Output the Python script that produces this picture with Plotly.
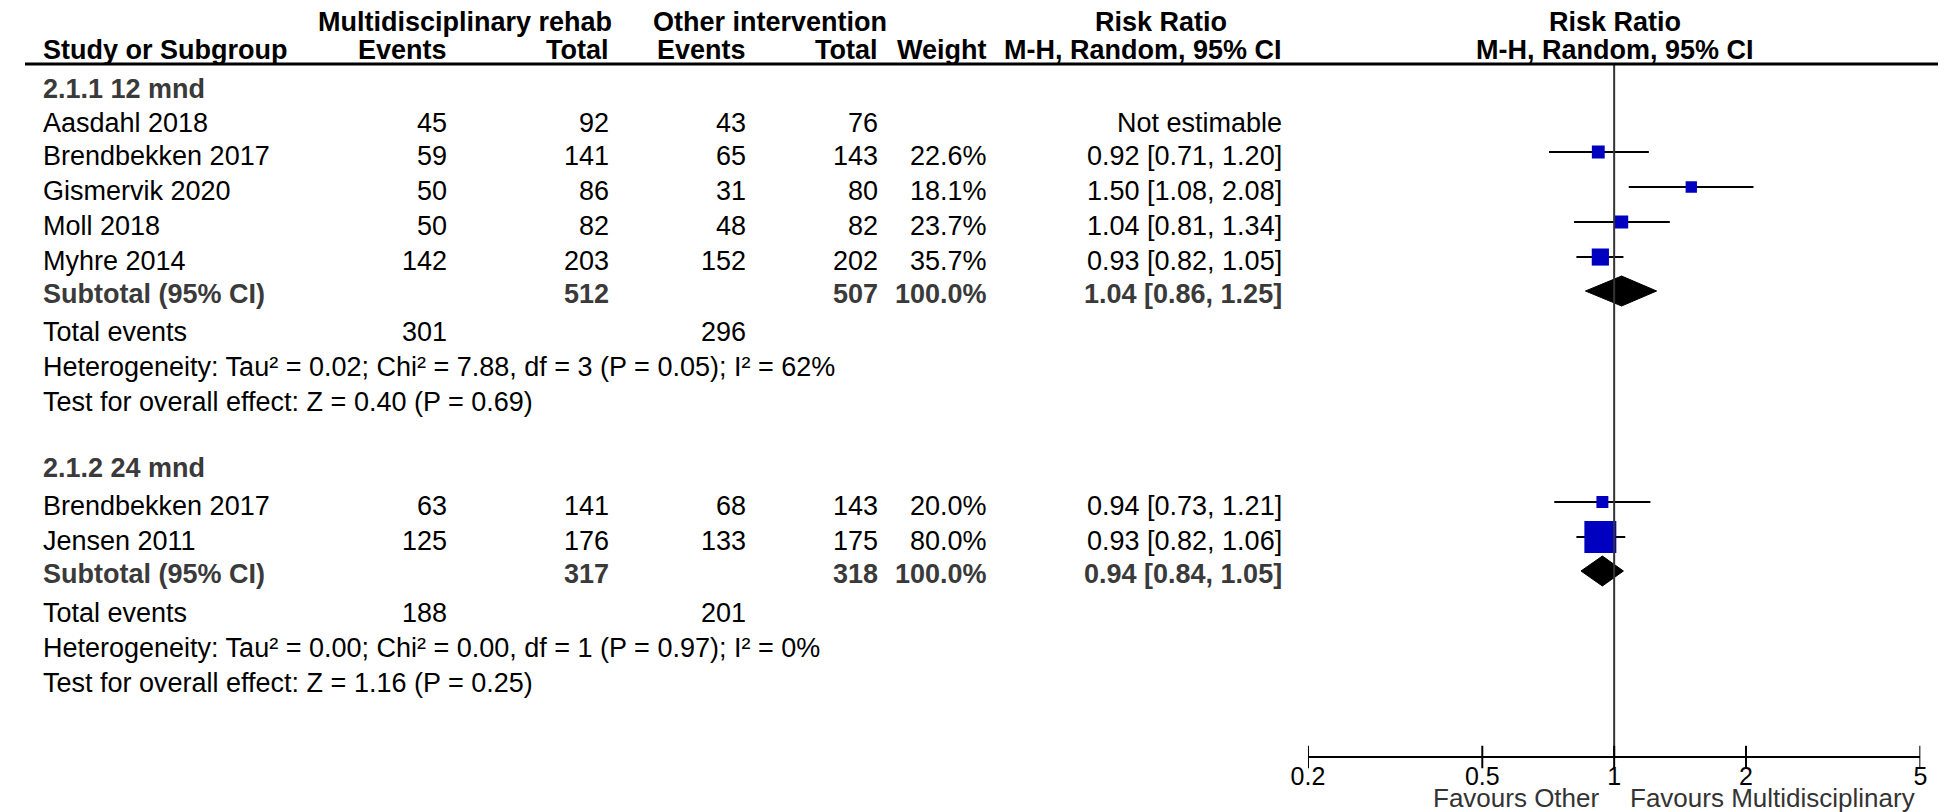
import math
import plotly.graph_objects as go

W, H = 1946, 812
FONT = "Liberation Sans, Arial, sans-serif"

# ---------------- data ----------------
header_top = ["Multidisciplinary rehab", "Other intervention", "Risk Ratio", "Risk Ratio"]
header_cols = ["Study or Subgroup", "Events", "Total", "Events", "Total", "Weight",
               "M-H, Random, 95% CI", "M-H, Random, 95% CI"]

sec1_title = "2.1.1 12 mnd"
sec1_studies = ["Aasdahl 2018", "Brendbekken 2017", "Gismervik 2020", "Moll 2018", "Myhre 2014"]
sec1_ev_t = [45, 59, 50, 50, 142]
sec1_tot_t = [92, 141, 86, 82, 203]
sec1_ev_c = [43, 65, 31, 48, 152]
sec1_tot_c = [76, 143, 80, 82, 202]
sec1_weight = [None, 22.6, 18.1, 23.7, 35.7]
sec1_rr = [None, 0.92, 1.50, 1.04, 0.93]
sec1_lo = [None, 0.71, 1.08, 0.81, 0.82]
sec1_hi = [None, 1.20, 2.08, 1.34, 1.05]
sec1_sub = {"tot_t": 512, "tot_c": 507, "weight": 100.0, "rr": 1.04, "lo": 0.86, "hi": 1.25}
sec1_events = [301, 296]
sec1_het = "Heterogeneity: Tau² = 0.02; Chi² = 7.88, df = 3 (P = 0.05); I² = 62%"
sec1_test = "Test for overall effect: Z = 0.40 (P = 0.69)"

sec2_title = "2.1.2 24 mnd"
sec2_studies = ["Brendbekken 2017", "Jensen 2011"]
sec2_ev_t = [63, 125]
sec2_tot_t = [141, 176]
sec2_ev_c = [68, 133]
sec2_tot_c = [143, 175]
sec2_weight = [20.0, 80.0]
sec2_rr = [0.94, 0.93]
sec2_lo = [0.73, 0.82]
sec2_hi = [1.21, 1.06]
sec2_sub = {"tot_t": 317, "tot_c": 318, "weight": 100.0, "rr": 0.94, "lo": 0.84, "hi": 1.05}
sec2_events = [188, 201]
sec2_het = "Heterogeneity: Tau² = 0.00; Chi² = 0.00, df = 1 (P = 0.97); I² = 0%"
sec2_test = "Test for overall effect: Z = 1.16 (P = 0.25)"

tick_vals = [0.2, 0.5, 1, 2, 5]
tick_text = ["0.2", "0.5", "1", "2", "5"]
favours_left = "Favours Other"
favours_right = "Favours Multidisciplinary"

# ---------------- layout (pixel positions) ----------------
FS = 27
X_LEFT = 16
X_EV1, X_TOT1, X_EV2, X_TOT2, X_W, X_CI = 429, 593, 732, 866, 976, 1275
AX_L, AX_R, AX_Y = 1299, 1919, 749
Y_HDR1, Y_HDR2, Y_LINE = 14, 42, 56
MARK_DY = -4

sec1_rows = {"title": 81, "studies": [115, 148, 183, 218, 253], "sub": 286,
             "events": 324, "het": 359, "test": 394}
sec2_rows = {"title": 460, "studies": [498, 533], "sub": 566,
             "events": 605, "het": 640, "test": 675}

BLUE = "#0000c0"
GREY = "#3a3a3a"

fig = go.Figure()
ann = []


def txt(x, y, s, anchor="left", bold=False, color="black", size=FS):
    ann.append(dict(x=x / W, y=y, xref="paper", yref="y", text=(f"<b>{s}</b>" if bold else s),
                    showarrow=False, xanchor=anchor, yanchor="middle",
                    font=dict(family=FONT, size=size, color=color)))


def fmt_ci(r, l, h):
    return f"{r:.2f} [{l:.2f}, {h:.2f}]"


# headers
txt(445, Y_HDR1, header_top[0], "center", True)
txt(754, Y_HDR1, header_top[1], "center", True)
txt(1150, Y_HDR1, header_top[2], "center", True)
txt(1610, Y_HDR1, header_top[3], "center", True)
txt(X_LEFT, Y_HDR2, header_cols[0], "left", True)
for xr, s in zip([X_EV1, X_TOT1, X_EV2, X_TOT2, X_W, X_CI], header_cols[1:7]):
    txt(xr, Y_HDR2, s, "right", True)
txt(1610, Y_HDR2, header_cols[7], "center", True)


def section(title, rows, studies, ev_t, tot_t, ev_c, tot_c, wt, rr, lo, hi, sub, events, het, test):
    txt(X_LEFT, rows["title"], title, "left", True, GREY)
    for i, name in enumerate(studies):
        y = rows["studies"][i]
        txt(X_LEFT, y, name)
        txt(X_EV1, y, str(ev_t[i]), "right")
        txt(X_TOT1, y, str(tot_t[i]), "right")
        txt(X_EV2, y, str(ev_c[i]), "right")
        txt(X_TOT2, y, str(tot_c[i]), "right")
        if wt[i] is not None:
            txt(X_W, y, f"{wt[i]:.1f}%", "right")
            txt(X_CI, y, fmt_ci(rr[i], lo[i], hi[i]), "right")
            ym = y + MARK_DY
            fig.add_trace(go.Scatter(x=[lo[i], hi[i]], y=[ym, ym], mode="lines",
                                     line=dict(color="black", width=2), hoverinfo="skip",
                                     showlegend=False))
            fig.add_trace(go.Scatter(x=[rr[i]], y=[ym], mode="markers",
                                     marker=dict(symbol="square", size=5.3 + wt[i] / 3,
                                                 color=BLUE, line=dict(width=0)),
                                     hoverinfo="skip", showlegend=False))
        else:
            txt(X_CI, y, "Not estimable", "right")
    ys = rows["sub"]
    txt(X_LEFT, ys, "Subtotal (95% CI)", "left", True, GREY)
    txt(X_TOT1, ys, str(sub["tot_t"]), "right", True, GREY)
    txt(X_TOT2, ys, str(sub["tot_c"]), "right", True, GREY)
    txt(X_W, ys, f"{sub['weight']:.1f}%", "right", True, GREY)
    txt(X_CI, ys, fmt_ci(sub["rr"], sub["lo"], sub["hi"]), "right", True, GREY)
    yd = ys - 3
    dh = 15
    fig.add_trace(go.Scatter(x=[sub["lo"], sub["rr"], sub["hi"], sub["rr"], sub["lo"]],
                             y=[yd, yd - dh, yd, yd + dh, yd], mode="lines", fill="toself",
                             fillcolor="black", line=dict(color="black", width=1),
                             hoverinfo="skip", showlegend=False))
    txt(X_LEFT, rows["events"], "Total events")
    txt(X_EV1, rows["events"], str(events[0]), "right")
    txt(X_EV2, rows["events"], str(events[1]), "right")
    txt(X_LEFT, rows["het"], het)
    txt(X_LEFT, rows["test"], test)


section(sec1_title, sec1_rows, sec1_studies, sec1_ev_t, sec1_tot_t, sec1_ev_c, sec1_tot_c,
        sec1_weight, sec1_rr, sec1_lo, sec1_hi, sec1_sub, sec1_events, sec1_het, sec1_test)
section(sec2_title, sec2_rows, sec2_studies, sec2_ev_t, sec2_tot_t, sec2_ev_c, sec2_tot_c,
        sec2_weight, sec2_rr, sec2_lo, sec2_hi, sec2_sub, sec2_events, sec2_het, sec2_test)

# line of no effect
fig.add_trace(go.Scatter(x=[1, 1], y=[Y_LINE, AX_Y], mode="lines",
                         line=dict(color="#333333", width=2), hoverinfo="skip", showlegend=False))
# ticks crossing the axis
fig.add_trace(go.Scatter(x=tick_vals, y=[AX_Y] * len(tick_vals), mode="markers",
                         marker=dict(symbol="line-ns", size=16, line=dict(color="black", width=2)),
                         hoverinfo="skip", showlegend=False))

# favours labels
txt(1597, 790, favours_left, "right", False, "#333333", 26)
txt(1623, 790, favours_right, "left", False, "#333333", 26)

shapes = [dict(type="line", xref="paper", yref="y", x0=0, x1=1, y0=Y_LINE, y1=Y_LINE,
               line=dict(color="black", width=3))]

fig.update_layout(
    width=W, height=H, margin=dict(l=0, r=0, t=0, b=0),
    paper_bgcolor="white", plot_bgcolor="rgba(0,0,0,0)",
    annotations=ann, shapes=shapes, showlegend=False,
    xaxis=dict(type="log", range=[math.log10(0.2), math.log10(5)],
               domain=[AX_L / W, AX_R / W], anchor="free", position=1 - AX_Y / H,
               showline=True, linecolor="black", linewidth=2, showgrid=False, zeroline=False,
               tickvals=tick_vals, ticktext=tick_text, ticks="", ticklabelstandoff=-3,
               tickfont=dict(family=FONT, size=25, color="black")),
    yaxis=dict(range=[H, 0], domain=[0, 1], visible=False, showgrid=False, zeroline=False),
)

fig.write_html("out.html")
